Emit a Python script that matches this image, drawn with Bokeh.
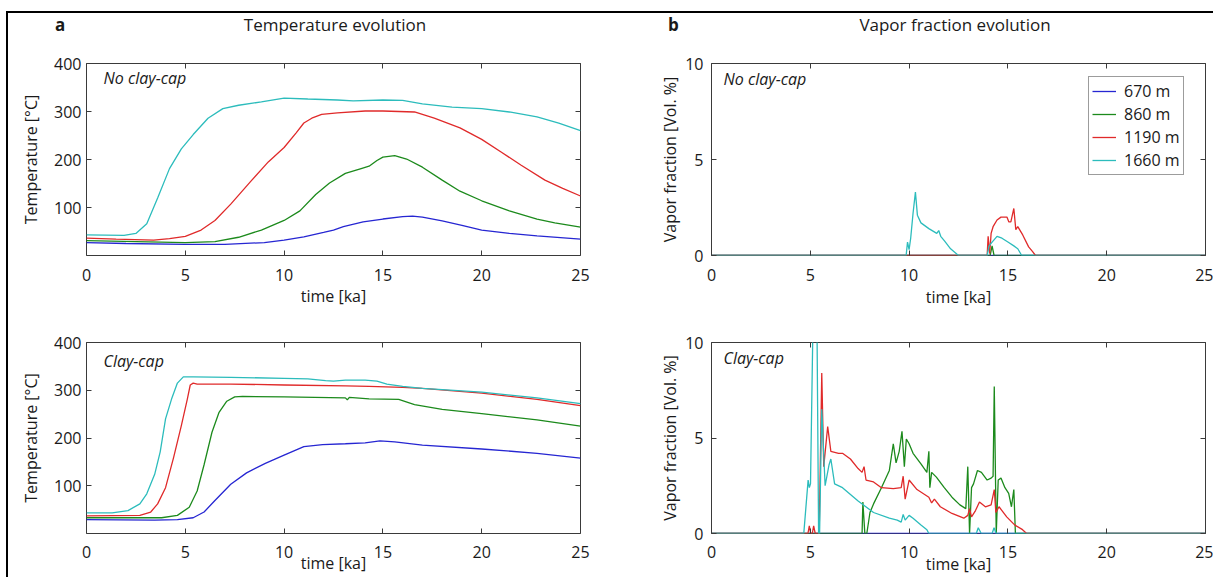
from bokeh.plotting import figure
from bokeh.models import Range1d, LinearAxis, FixedTicker, Label, Legend, LegendItem, Spacer, Div
from bokeh.layouts import column, row
from bokeh.embed import file_html
from bokeh.resources import INLINE

FONT = "Open Sans"
TXT = "#1a1a1a"
BOX = "#3a3a3a"

depth_labels = ["670 m", "860 m", "1190 m", "1660 m"]
line_colors = ["#2626d2", "#1c8a1c", "#e02a2a", "#2cbcbc"]
time_ticks = [0, 5, 10, 15, 20, 25]
temp_ticks = [100, 200, 300, 400]
vapor_ticks = [0, 5, 10]

# ---------- a: temperature [°C], No clay-cap ----------
nc_670_t = [0, 2, 5, 7, 9, 10, 11, 12, 12.5, 13, 14, 15, 16, 16.5, 17, 18, 19, 20, 21.4, 22.8, 25]
nc_670_T = [27, 25, 23, 23, 27, 32, 39, 48, 53, 60, 70, 76, 81, 82, 80, 72, 63, 53, 46, 41, 34]
nc_860_t = [0, 5, 6.5, 7.7, 8.85, 10, 10.8, 11.6, 12.3, 13.1, 13.9, 14.3, 14.7, 15, 15.6, 16.2, 17, 18, 18.9, 20, 21.4, 22.8, 23.7, 25]
nc_860_T = [31, 27, 29, 38, 53, 73, 93, 127, 151, 171, 181, 186, 198, 205, 208, 201, 184, 157, 134, 114, 93, 76, 68, 59]
nc_1190_t = [0, 1.5, 3.4, 4.2, 5, 5.8, 6.5, 7.3, 8.3, 9.2, 10, 10.6, 11, 11.4, 11.9, 12.7, 14.1, 15, 16.6, 17.6, 18.9, 20, 21, 22, 23.2, 24.1, 25]
nc_1190_T = [36, 34, 32, 35, 40, 53, 73, 107, 154, 195, 225, 255, 276, 286, 294, 297, 301, 301, 299, 286, 266, 242, 215, 188, 157, 140, 124]
nc_1660_t = [0, 1.9, 2.5, 3.05, 3.6, 4.2, 4.8, 5.4, 6.15, 6.9, 7.7, 8.85, 10, 11.2, 12.7, 13.5, 15, 16, 17, 18.5, 20, 21.4, 22.8, 23.9, 25]
nc_1660_T = [43, 42, 46, 66, 120, 181, 222, 252, 286, 306, 313, 320, 328, 326, 324, 322, 324, 323, 316, 309, 306, 299, 289, 276, 260]

# ---------- a: temperature [°C], Clay-cap ----------
cc_670_t = [0, 3.45, 4.6, 5.4, 5.95, 6.5, 7.3, 8.1, 9.05, 10, 11, 11.95, 13.1, 14.1, 14.85, 15.6, 17, 20, 22.8, 25]
cc_670_T = [29, 28, 29, 33, 45, 69, 103, 127, 147, 164, 182, 186, 188, 190, 194, 192, 185, 177, 168, 158]
cc_860_t = [0, 3.8, 4.6, 5.2, 5.6, 5.95, 6.35, 6.7, 7.1, 7.5, 7.9, 10, 13.1, 13.2, 13.3, 14.3, 15.8, 16.6, 18, 20, 22.8, 25]
cc_860_T = [33, 33, 38, 55, 89, 144, 212, 253, 277, 286, 287, 286, 284, 280, 285, 282, 281, 270, 260, 251, 238, 225]
cc_1190_t = [0, 2.7, 3.25, 3.6, 4.0, 4.4, 4.8, 5.1, 5.25, 5.4, 5.6, 7.3, 10, 13.1, 14.3, 16, 17, 20, 22.8, 25]
cc_1190_T = [37, 38, 45, 62, 96, 158, 226, 281, 311, 315, 313, 313, 311, 309, 308, 306, 304, 294, 281, 268]
cc_1660_t = [0, 1.3, 2.1, 2.7, 3.05, 3.45, 3.73, 4.0, 4.3, 4.6, 4.9, 5.4, 7.3, 10, 11.2, 12.1, 12.5, 13.1, 14.1, 14.7, 15.2, 16, 17, 20, 22.8, 25]
cc_1660_T = [43, 43, 48, 62, 83, 124, 171, 240, 281, 315, 328, 328, 327, 325, 324, 320, 319, 321, 321, 319, 313, 308, 304, 296, 284, 272]

# ---------- b: vapor fraction [Vol. %], No clay-cap ----------
nc_v670_t = [0, 25]
nc_v670 = [0, 0]
nc_v860_t = [0, 14.1, 14.2, 14.3, 25]
nc_v860 = [0, 0, 0.5, 0, 0]
nc_v1190_t = [0, 13.95, 14.0, 14.08, 14.15, 14.25, 14.45, 14.65, 14.95, 15.05, 15.15, 15.3, 15.4, 15.5, 15.75, 16.05, 16.25, 16.4, 25]
nc_v1190 = [0, 0, 1.0, 0.1, 1.15, 1.5, 1.85, 2.0, 2.0, 1.75, 1.75, 2.45, 1.35, 1.5, 1.07, 0.45, 0.2, 0, 0]
nc_v1660_t = [0, 9.85, 9.92, 10.0, 10.08, 10.2, 10.32, 10.42, 10.6, 11.0, 11.4, 11.5, 11.6, 11.8, 12.1, 12.5, 13.95, 14.05, 14.2, 14.45, 14.7, 15.0, 15.3, 15.5, 15.7, 25]
nc_v1660 = [0, 0, 0.7, 0.3, 0.9, 2.2, 3.3, 2.1, 1.7, 1.4, 1.15, 1.3, 1.0, 0.75, 0.35, 0, 0, 0.5, 0.7, 1.0, 0.9, 0.7, 0.5, 0.35, 0, 0]

# ---------- b: vapor fraction [Vol. %], Clay-cap ----------
cc_v670_t = [0, 25]
cc_v670 = [0, 0]
cc_v860_t = [0, 7.62, 7.66, 7.76, 7.86, 8.02, 8.2, 8.6, 9.0, 9.2, 9.34, 9.5, 9.64, 9.76, 9.86, 10.0, 10.2, 10.6, 10.9, 11.0,
             11.05, 11.14, 11.38, 11.78, 12.17, 12.57, 12.87, 12.97, 13.06, 13.16, 13.26, 13.46, 13.66, 13.95, 14.15, 14.25,
             14.31, 14.41, 14.51, 14.65, 14.85, 15.04, 15.18, 15.3, 15.38, 25]
cc_v860 = [0, 0, 1.65, 0, 0, 1.1, 1.55, 2.4, 3.3, 4.7, 3.7, 4.3, 5.35, 3.5, 4.95, 4.7, 4.2, 3.65, 3.2, 4.3,
           2.4, 3.2, 2.95, 2.4, 1.9, 1.5, 1.3, 3.5, 0, 2.4, 2.6, 3.3, 3.2, 2.8, 2.9, 3.0,
           7.7, 0, 2.8, 2.9, 2.4, 2.1, 1.4, 2.3, 0, 0]
cc_v1190_t = [0, 4.88, 4.95, 5.02, 5.1, 5.17, 5.25, 5.45, 5.58, 5.68, 5.88, 6.04, 6.43, 6.63, 7.03, 7.42, 7.62, 7.72, 7.82, 8.2,
              8.6, 9.2, 9.6, 9.7, 9.8, 10.0, 10.4, 11.0, 11.14, 11.28, 11.58, 12.17, 12.77, 12.97, 13.06, 13.16, 13.36, 13.56,
              13.86, 14.15, 14.31, 14.39, 14.55, 14.94, 15.34, 15.74, 15.95, 25]
cc_v1190 = [0, 0, 0.4, 0, 0, 0.4, 0, 0, 8.4, 3.5, 5.6, 4.3, 4.2, 4.2, 3.9, 3.4, 3.2, 3.5, 2.8, 2.7,
            2.4, 2.35, 2.4, 3.0, 1.8, 2.8, 2.3, 1.9, 1.6, 1.8, 1.4, 1.05, 0.8, 0.95, 1.3, 0.87, 1.2, 1.65,
            1.4, 1.5, 2.3, 1.1, 1.4, 0.87, 0.45, 0.2, 0, 0]
cc_v1660_t = [0, 4.67, 4.89, 4.95, 5.01, 5.15, 5.33, 5.42, 5.47, 5.58, 5.75, 5.95, 6.04, 6.23, 6.63, 7.42, 8.2, 9.0, 9.4, 9.6,
              9.7, 9.8, 10.0, 10.2, 10.6, 10.9, 11.0, 13.4, 13.5, 13.65, 14.2, 14.3, 14.4, 25]
cc_v1660 = [0, 0, 2.8, 2.4, 2.6, 12, 12, 0, 0, 6.5, 2.5, 3.6, 3.9, 2.6, 2.4, 1.7, 1.1, 0.8, 0.7, 0.6,
            1.0, 0.7, 0.95, 0.8, 0.45, 0.2, 0, 0, 0.3, 0, 0, 0.3, 0, 0]


def style_axis(ax):
    ax.axis_line_color = None
    ax.major_tick_in = 5
    ax.major_tick_out = 0
    ax.minor_tick_in = 0
    ax.minor_tick_out = 0
    ax.major_tick_line_color = BOX
    ax.major_tick_line_width = 1
    ax.major_label_text_font = FONT
    ax.major_label_text_font_size = "16px"
    ax.major_label_text_color = TXT
    ax.axis_label_text_font = FONT
    ax.axis_label_text_font_size = "16px"
    ax.axis_label_text_font_style = "normal"
    ax.axis_label_text_color = TXT


def make_panel(width, height, borders, ymax, yticks, ylabel, xstand, ystand, ylab_stand, xlab_stand):
    left, right, top, bottom = borders
    p = figure(width=width, height=height, x_range=Range1d(0, 25), y_range=Range1d(0, ymax),
               output_backend="svg", toolbar_location=None,
               min_border_left=left, min_border_right=right, min_border_top=top, min_border_bottom=bottom)
    p.xgrid.visible = False
    p.ygrid.visible = False
    p.outline_line_color = BOX
    p.outline_line_width = 1
    p.background_fill_color = "white"
    p.border_fill_color = "white"
    xa = p.xaxis[0]
    ya = p.yaxis[0]
    xa.ticker = FixedTicker(ticks=time_ticks)
    ya.ticker = FixedTicker(ticks=yticks)
    style_axis(xa)
    style_axis(ya)
    xa.axis_label = "time [ka]"
    ya.axis_label = ylabel
    xa.major_label_standoff = xstand
    ya.major_label_standoff = ystand
    ya.axis_label_standoff = ylab_stand
    xa.axis_label_standoff = xlab_stand
    # mirrored tick marks on top and right (no labels)
    top_ax = LinearAxis(ticker=FixedTicker(ticks=time_ticks), major_label_overrides={t: "" for t in time_ticks})
    right_ax = LinearAxis(ticker=FixedTicker(ticks=yticks), major_label_overrides={t: "" for t in yticks})
    for ax in (top_ax, right_ax):
        style_axis(ax)
        ax.major_label_text_font_size = "0px"
        ax.major_label_standoff = 0
    p.add_layout(top_ax, "above")
    p.add_layout(right_ax, "right")
    return p


def add_lines(p, series):
    rs = []
    for (t, v), c in zip(series, line_colors):
        rs.append(p.line(t, v, line_color=c, line_width=1.3))
    return rs


def put_text(p, geom, px, py, text, size="16px", style="normal", align="left"):
    # place a text label at a page-pixel position inside the frame
    fl, ft, fw, fh, ymax = geom
    x = (px - fl) / fw * 25.0
    y = ymax - (py - ft) / fh * ymax
    p.add_layout(Label(x=x, y=y, text=text, text_font=FONT, text_font_size=size,
                       text_font_style=style, text_align=align, text_baseline="middle",
                       text_color=TXT))


# frame geometry in page pixels: left, top, width, height, y max
G_TL = (86, 63, 494, 193, 400)
G_TR = (711, 63, 494, 192, 10)
G_BL = (86, 338, 494, 196, 400)
G_BR = (711, 342, 494, 191, 10)

p_tl = make_panel(620, 271, (78, 48, 24, 54), 400, temp_ticks, "Temperature [°C]", 13, 5, 9, 1)
p_tr = make_panel(585, 271, (83, 8, 24, 55), 10, vapor_ticks, "Vapor fraction [Vol. %]", 13, 8, 1, 2)
p_bl = make_panel(620, 267, (78, 48, 28, 43), 400, temp_ticks, "Temperature [°C]", 12, 5, 9, -9)
p_br = make_panel(585, 267, (83, 8, 32, 44), 10, vapor_ticks, "Vapor fraction [Vol. %]", 12, 8, 1, -8)

add_lines(p_tl, [(nc_670_t, nc_670_T), (nc_860_t, nc_860_T), (nc_1190_t, nc_1190_T), (nc_1660_t, nc_1660_T)])
add_lines(p_bl, [(cc_670_t, cc_670_T), (cc_860_t, cc_860_T), (cc_1190_t, cc_1190_T), (cc_1660_t, cc_1660_T)])
tr_lines = add_lines(p_tr, [(nc_v670_t, nc_v670), (nc_v860_t, nc_v860), (nc_v1190_t, nc_v1190), (nc_v1660_t, nc_v1660)])
add_lines(p_br, [(cc_v670_t, cc_v670), (cc_v860_t, cc_v860), (cc_v1190_t, cc_v1190), (cc_v1660_t, cc_v1660)])

put_text(p_tl, G_TL, 103, 78, "No clay-cap", style="italic")
put_text(p_tr, G_TR, 723, 78, "No clay-cap", style="italic")
put_text(p_bl, G_BL, 103, 357, "Clay-cap", style="italic")
put_text(p_br, G_BR, 723, 357, "Clay-cap", style="italic")

legend = Legend(items=[LegendItem(label=lab, renderers=[r]) for lab, r in zip(depth_labels, tr_lines)],
                location=(377, 80))
legend.border_line_color = BOX
legend.border_line_width = 1
legend.background_fill_color = "white"
legend.background_fill_alpha = 1.0
legend.label_text_font = FONT
legend.label_text_font_size = "16px"
legend.label_text_color = TXT
legend.padding = 3
legend.spacing = 1
legend.margin = 0
legend.label_height = 20
legend.glyph_height = 20
legend.glyph_width = 24
legend.label_standoff = 8
legend.label_width = 56
p_tr.add_layout(legend)


def head_div(text, width, bold=False):
    st = {"font-family": "'Open Sans', sans-serif", "font-size": "17px", "line-height": "24px",
          "color": TXT, "text-align": "left" if bold else "center", "white-space": "nowrap"}
    if bold:
        st["font-weight"] = "bold"
    return Div(text=text, width=width, height=26, margin=0, styles=st)


header = row(
    Spacer(width=47, height=26, margin=0),
    head_div("a", 120, bold=True),
    head_div("Temperature evolution", 320),
    Spacer(width=173, height=26, margin=0),
    head_div("b", 127, bold=True),
    head_div("Vapor fraction evolution", 320),
    Spacer(width=98, height=26, margin=0),
)

grid = column(header, row(p_tl, p_tr), row(p_bl, p_br))
layout = column(
    Spacer(width=1213, height=11, margin=0),
    row(Spacer(width=6, height=2, margin=0), Spacer(width=1207, height=2, margin=0, styles={"background-color": "black"})),
    row(Spacer(width=6, height=564, margin=0), Spacer(width=2, height=564, margin=0, styles={"background-color": "black"}), grid),
)

open("out.html", "w").write(file_html(layout, INLINE))
